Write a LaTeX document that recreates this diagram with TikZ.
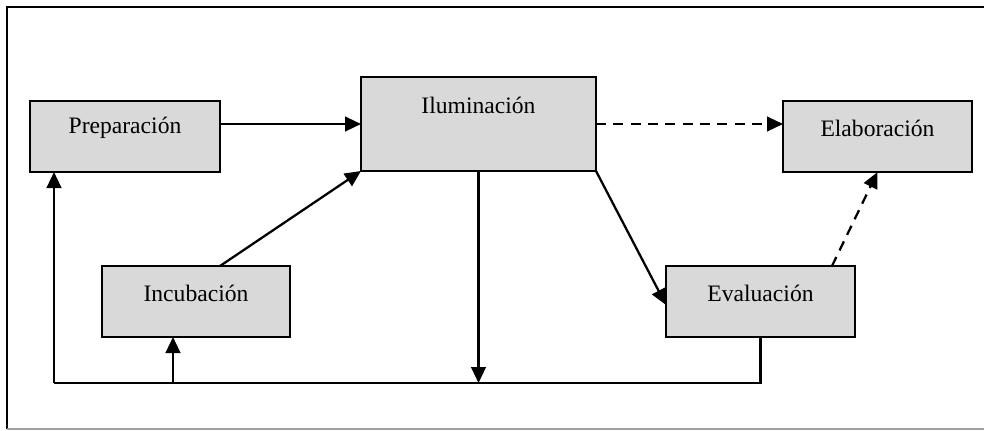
\documentclass[tikz,border=0pt]{standalone}
\usepackage{fontspec}
\setmainfont{Liberation Serif}
\usetikzlibrary{arrows.meta}
\begin{document}
\begin{tikzpicture}[x=0.75pt,y=-0.75pt,
  stagebox/.style={draw=black,fill=boxgray,line width=1.8pt,inner sep=0pt,outer sep=0pt},
  stagetext/.style={inner sep=0pt,font=\fontsize{17.7}{20}\selectfont},
  link/.style={line width=1.7pt,-{Triangle[length=12pt,width=11pt]}},
  plain/.style={line width=1.7pt},
  dashlink/.style={link,dash pattern=on 7.5pt off 5.5pt}]
\definecolor{boxgray}{HTML}{D9D9D9}
\definecolor{framegray}{HTML}{A0A0A0}
\useasboundingbox (0,0) rectangle (984,430);
% outer frame
\draw[line width=1.8pt] (7,429) -- (7,7) -- (984,7);
\draw[framegray,line width=1.4pt] (7,429) -- (984,429);
% stage boxes
\node[stagebox,minimum width=142.5pt,minimum height=53.25pt] (prep) at (125,136.5) {};
\node[stagebox,minimum width=176.25pt,minimum height=70.5pt] (ilum) at (478.5,124) {};
\node[stagebox,minimum width=141.75pt,minimum height=53.25pt] (elab) at (877.5,136.5) {};
\node[stagebox,minimum width=141pt,minimum height=53.25pt] (incub) at (196,301.5) {};
\node[stagebox,minimum width=141.75pt,minimum height=53.25pt] (eval) at (760.5,301.5) {};
% stage names
\node[stagetext] (prepT) at (125,128) {Preparación};
\node[stagetext] (ilumT) at (478.5,105) {Iluminación};
\node[stagetext] (elabT) at (877.5,128) {Elaboración};
\node[stagetext] (incubT) at (196,293) {Incubación};
\node[stagetext] (evalT) at (760.5,293) {Evaluación};
% feedback loop along the bottom
\coordinate (bl) at (54,383);
\coordinate (ci) at (173,383);
\draw[plain] (eval.south) |- (bl);
\draw[link] (bl) -- (bl |- prep.south);
\draw[link] (ci) -- (ci |- incub.south);
\draw[link] (ilum.south) -- (ilum.south |- bl);
% forward links
\draw[link] ([yshift=9.375pt]prep.east) -- (ilum.west);
\draw[link] ([xshift=18pt]incub.north) -- (ilum.south west);
\draw[link] (ilum.south east) -- ([yshift=-2.6pt]eval.west);
\draw[dashlink] (ilum.east) -- (ilum.east -| elab.west);
\draw[dashlink] ([xshift=53.6pt]eval.north) -- (elab.south);
\end{tikzpicture}
\end{document}
